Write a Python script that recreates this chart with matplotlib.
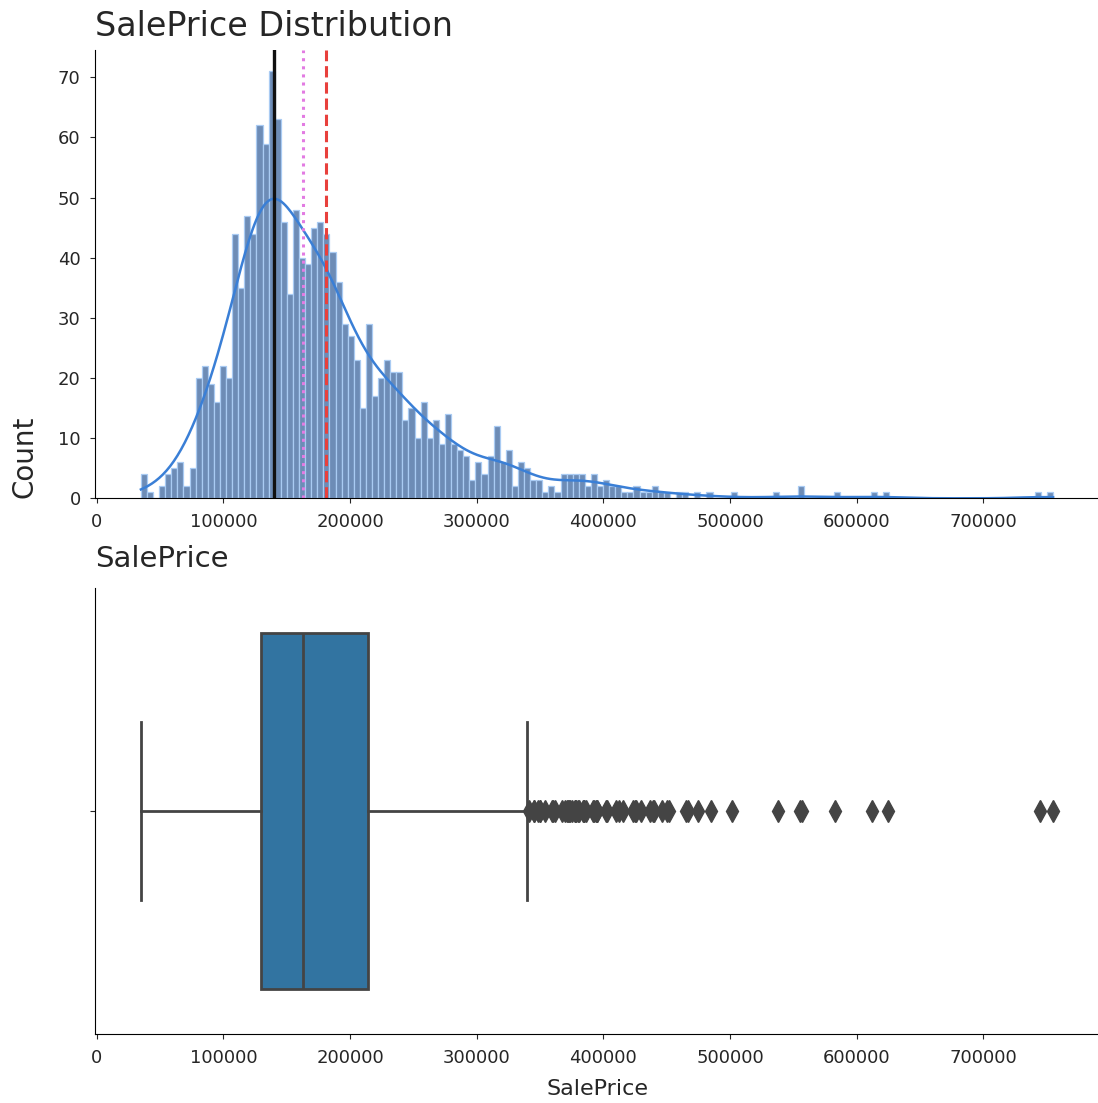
import numpy as np
import matplotlib
matplotlib.use("Agg")
import matplotlib.pyplot as plt

# ---------------- data ----------------
price_min = 34900
price_max = 755000
n_bins = 150
counts = [
    4, 1, 0, 2, 4, 5, 6, 2, 5, 20,
    22, 19, 16, 22, 20, 44, 35, 47, 44, 62,
    59, 71, 63, 46, 34, 48, 40, 39, 45, 46,
    44, 41, 36, 29, 27, 23, 15, 29, 17, 20,
    23, 21, 21, 13, 15, 10, 16, 10, 13, 9,
    14, 9, 8, 7, 3, 6, 4, 7, 12, 6,
    8, 2, 6, 5, 3, 3, 1, 2, 1, 4,
    4, 4, 4, 2, 4, 2, 3, 2, 2, 1,
    1, 2, 1, 1, 2, 1, 1, 0, 1, 1,
    0, 1, 0, 1, 0, 0, 0, 1, 0, 0,
    0, 0, 0, 0, 1, 0, 0, 0, 2, 0,
    0, 0, 0, 0, 1, 0, 0, 0, 0, 0,
    1, 0, 1, 0, 0, 0, 0, 0, 0, 0,
    0, 0, 0, 0, 0, 0, 0, 0, 0, 0,
    0, 0, 0, 0, 0, 0, 0, 1, 0, 1,
]
mean_price = 180921
median_price = 163000
mode_price = 140000

q1 = 129975
q3 = 214000
whisker_low = 34900
whisker_high = 340000
outliers = [
    341000, 345000, 345474, 348000, 350000, 350000, 354000, 359100, 360000,
    361919, 367294, 369900, 370878, 372402, 372500, 374000, 375000, 377426,
    377500, 378500, 380000, 381000, 383970, 384500, 385000, 386250, 392000,
    392500, 394432, 394617, 395000, 402000, 402861, 410000, 412500, 415298,
    423000, 424870, 426000, 430000, 437154, 438780, 440000, 446261, 450000,
    451950, 465000, 466500, 475000, 485000, 501837, 538000, 555000, 556581,
    582933, 611657, 625000, 745000, 755000,
]
x_ticks = [0, 100000, 200000, 300000, 400000, 500000, 600000, 700000]
y_ticks = [0, 10, 20, 30, 40, 50, 60, 70]

# ---------------- figure ----------------
plt.rcParams["text.color"] = "#262626"
plt.rcParams["axes.labelcolor"] = "#262626"
plt.rcParams["xtick.color"] = "#262626"
plt.rcParams["ytick.color"] = "#262626"

W, H = 1098, 1103
fig = plt.figure(figsize=(W / 100, H / 100), dpi=100)

def ax_rect(x0, y0, x1, y1):
    return [x0 / W, (H - y1) / H, (x1 - x0) / W, (y1 - y0) / H]

ax1 = fig.add_axes(ax_rect(95.3, 50, 1098.7, 498.3))
ax2 = fig.add_axes(ax_rect(95.3, 588, 1098.7, 1034))

edges = np.linspace(price_min, price_max, n_bins + 1)
width = edges[1] - edges[0]
centers = (edges[:-1] + edges[1:]) / 2
c = np.array(counts, dtype=float)

ax1.bar(edges[:-1], c, width=width, align="edge",
        facecolor="#6d8cb6", edgecolor="#a9cbf3", linewidth=0.9)

# KDE (Gaussian, Scott bandwidth) scaled to counts
n = c.sum()
mu = (centers * c).sum() / n
sd = np.sqrt(((centers - mu) ** 2 * c).sum() / (n - 1))
bw = sd * n ** (-0.2)
grid = np.linspace(price_min, price_max, 500)
dens = (c[None, :] * np.exp(-0.5 * ((grid[:, None] - centers[None, :]) / bw) ** 2)).sum(axis=1)
dens = dens / (bw * np.sqrt(2 * np.pi))
ax1.plot(grid, dens * width, color="#3a7fd6", linewidth=1.8)

ax1.axvline(mean_price, color="#e8403c", linestyle="--", linewidth=2.2)
ax1.axvline(median_price, color="#e27be2", linestyle=":", linewidth=2.2)
ax1.axvline(mode_price, color="#111111", linestyle="-", linewidth=2.4)

ax1.set_xticks(x_ticks)
ax1.set_yticks(y_ticks)
ax1.tick_params(labelsize=13, pad=7)
ax1.set_ylabel("Count", fontsize=20, loc="bottom", labelpad=14)
ax1.set_title("SalePrice Distribution", loc="left", fontsize=24, pad=10)
ax1.spines["top"].set_visible(False)
ax1.spines["right"].set_visible(False)

# ---------------- boxplot ----------------
stats = [dict(med=median_price, q1=q1, q3=q3, whislo=whisker_low,
              whishi=whisker_high, fliers=outliers)]
gray = "#444444"
ax2.bxp(stats, positions=[0], widths=0.8, vert=False, patch_artist=True,
        boxprops=dict(facecolor="#3274a1", edgecolor=gray, linewidth=2),
        medianprops=dict(color=gray, linewidth=2),
        whiskerprops=dict(color=gray, linewidth=2),
        capprops=dict(color=gray, linewidth=2),
        flierprops=dict(marker="d", markersize=11, markerfacecolor=gray,
                        markeredgecolor=gray))
ax2.set_ylim(0.5, -0.5)
ax2.set_yticks([0])
ax2.set_yticklabels([""])
ax2.set_xticks(x_ticks)
ax2.set_xticklabels([str(t) for t in x_ticks])
ax2.tick_params(labelsize=13, pad=7)
ax2.set_xlabel("SalePrice", fontsize=16, labelpad=9)
ax2.set_title("SalePrice", loc="left", fontsize=21, pad=15)
ax2.spines["top"].set_visible(False)
ax2.spines["right"].set_visible(False)

fig.savefig("out.png", dpi=100)
